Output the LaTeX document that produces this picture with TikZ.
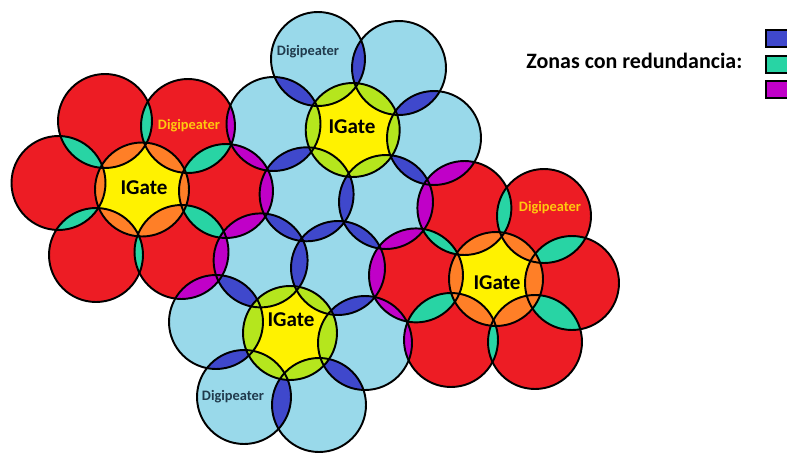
\documentclass[tikz,border=0pt]{standalone}
\usepackage{fontspec}
\setmainfont{Carlito}

\definecolor{zonered}{HTML}{ED1C24}
\definecolor{zonesky}{HTML}{99D9EA}
\definecolor{igatey}{HTML}{FFF200}
\definecolor{ringorange}{HTML}{FF7F27}
\definecolor{ringlime}{HTML}{B5E61D}
\definecolor{lensblue}{HTML}{3F48CC}
\definecolor{lensteal}{HTML}{28D4A4}
\definecolor{lensmag}{HTML}{C000C8}
\definecolor{digigold}{HTML}{FFC90E}
\definecolor{digidark}{HTML}{203A4C}

\tikzset{
  cell/.style={draw=black, line width=1.1pt},
  igatelabel/.style={font=\bfseries\fontsize{12}{14}\selectfont, text=black, inner sep=0pt},
  digired/.style={font=\bfseries\fontsize{8.2}{10}\selectfont, text=digigold, inner sep=0pt},
  digisky/.style={font=\bfseries\fontsize{8.2}{10}\selectfont, text=digidark, inner sep=0pt},
  keybox/.style={draw=black, line width=1.1pt, minimum width=0.8cm, minimum height=0.34cm, inner sep=0pt}
}

\newcommand{\cellr}{0.94cm}
\newcommand{\zonelens}[3]{\begin{scope}\clip (#1) circle[radius=\cellr];\fill[#3] (#2) circle[radius=\cellr];\end{scope}}

\begin{document}
\begin{tikzpicture}[x=0.02cm, y=-0.02cm]
    \useasboundingbox (0,0) rectangle (787,456);
    \clip (0,0) rectangle (787,456);

    % IGates (redL, blueT, blueB, redR) and their digipeaters -1 ... -6
    \foreach \n/\px/\py in {redL/142/189.5, redL-1/226/191, redL-2/181.5/252, redL-3/96/255,
                            redL-4/58.5/183, redL-5/105/121, redL-6/188/126,
                            blueT/352.7/130, blueT-1/434/138, blueT-2/386/202, blueT-3/306.6/194.3,
                            blueT-4/273.5/124, blueT-5/318/59, blueT-6/399/68,
                            blueB/290/333, blueB-1/365/343, blueB-2/319/405, blueB-3/244/397,
                            blueB-4/216/322, blueB-5/260.6/260.4, blueB-6/338/268,
                            redR/496/279, redR-1/572/283, redR-2/535/342, redR-3/451/340,
                            redR-4/416/275.4, redR-5/464.4/208, redR-6/544/216}
        \coordinate (\n) at (\px,\py);

    \foreach \c/\col in {redL/zonered, redR/zonered, blueT/zonesky, blueB/zonesky} {
        \foreach \k in {1,...,6}
            \fill[\col] (\c-\k) circle[radius=\cellr];
        \fill[igatey] (\c) circle[radius=\cellr];
    }

    % redundancy inside a cluster
    \foreach \c/\pair/\ring in {redL/lensteal/ringorange, redR/lensteal/ringorange, blueT/lensblue/ringlime, blueB/lensblue/ringlime} {
        \foreach \k in {1,...,6} {
            \pgfmathtruncatemacro{\n}{mod(\k,6)+1}
            \zonelens{\c-\k}{\c-\n}{\pair}
            \zonelens{\c}{\c-\k}{\ring}
        }
    }

    % redundancy between clusters
    \foreach \a/\b in {redL-1/blueT-3, redL-1/blueT-4, redL-6/blueT-4, redL-1/blueB-5, redL-2/blueB-5, redL-2/blueB-4,
                       blueT-2/redR-4, blueT-2/redR-5, blueT-1/redR-5, blueB-6/redR-4, blueB-1/redR-4, blueB-1/redR-3}
        \zonelens{\a}{\b}{lensmag};
    \foreach \a/\b in {blueT-3/blueB-5, blueT-3/blueB-6, blueT-2/blueB-6}
        \zonelens{\a}{\b}{lensblue};

    \foreach \c in {redL, redR, blueT, blueB} {
        \foreach \k in {1,...,6}
            \draw[cell] (\c-\k) circle[radius=\cellr];
        \draw[cell] (\c) circle[radius=\cellr];
    }

    \node[igatelabel] (igL) at (144,188) {IGate};
    \node[igatelabel] (igT) at (352,127) {IGate};
    \node[igatelabel] (igB) at (291,320) {IGate};
    \node[igatelabel] (igR) at (497,283) {IGate};

    \node[digired] (dgL) at (189,126) {Digipeater};
    \node[digisky] (dgT) at (308,52) {Digipeater};
    \node[digired] (dgR) at (550,208) {Digipeater};
    \node[digisky] (dgB) at (233,397) {Digipeater};

    % legend
    \node[font=\bfseries\fontsize{12.5}{15}\selectfont, anchor=west, inner sep=0pt] (zonas) at (526,61) {Zonas con redundancia:};
    \node[keybox, fill=lensblue, anchor=north west] (keyBlue) at (765,29) {};
    \node[keybox, fill=lensteal, anchor=north west] (keyTeal) at (765,55) {};
    \node[keybox, fill=lensmag, anchor=north west] (keyMag) at (765,80) {};

\end{tikzpicture}
\end{document}
